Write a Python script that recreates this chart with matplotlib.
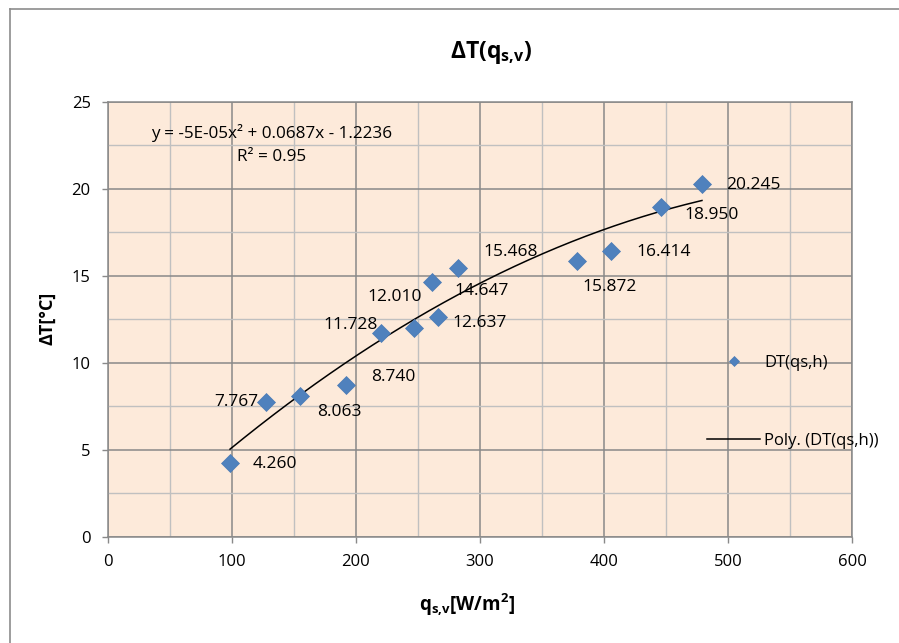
import numpy as np
import matplotlib
matplotlib.use("Agg")
import matplotlib.pyplot as plt
from matplotlib.ticker import MultipleLocator
from matplotlib.lines import Line2D

plt.rcParams['font.family'] = ['Open Sans', 'DejaVu Sans']
plt.rcParams['mathtext.fontset'] = 'custom'
plt.rcParams['mathtext.rm'] = 'Open Sans'
plt.rcParams['mathtext.bf'] = 'Open Sans:bold'

# data
q = [98.4, 127.4, 154.8, 192.0, 220.0, 246.8, 265.9, 261.0, 282.5, 378.0, 406.0, 446.0, 479.0]
dT = [4.260, 7.767, 8.063, 8.740, 11.728, 12.010, 12.637, 14.647, 15.468, 15.872, 16.414, 18.950, 20.245]
labels = ["4.260", "7.767", "8.063", "8.740", "11.728", "12.010", "12.637",
          "14.647", "15.468", "15.872", "16.414", "18.950", "20.245"]
equation = "y = -5E-05x² + 0.0687x - 1.2236"
r_squared = "R² = 0.95"

# label placement (pixel offsets from the point, alignment)
label_pos = [(23, -1, 'left'), (-8, 0, 'right'), (17, -16, 'left'), (25, 8, 'left'),
             (-3, 8, 'right'), (8, 31, 'right'), (15, -6, 'left'), (23, -9, 'left'),
             (25, 16, 'left'), (6, -26, 'left'), (25, -1, 'left'), (23, -8, 'left'),
             (24, -1, 'left')]

blue = '#4F81BD'
major_grey = '#898989'
minor_grey = '#C0C0C0'

fig = plt.figure(figsize=(8.99, 6.43), dpi=100)
W, H = 899, 643
ax = fig.add_axes([108 / W, 1 - 536.7 / H, (852 - 108) / W, (536.7 - 101.7) / H])
ax.set_facecolor('#FDEADA')

# chart border (only left/top visible)
fig.add_artist(Line2D([10 / W, 10 / W], [0, 1 - 9 / H], color='#8C8C8C', lw=1.2))
fig.add_artist(Line2D([10 / W, 1], [1 - 9 / H, 1 - 9 / H], color='#8C8C8C', lw=1.2))

ax.plot(q, dT, 'D', color=blue, markersize=9, markeredgewidth=0.5,
        markeredgecolor='#4A7AB5', zorder=4, label='DT(qs,h)')

# polynomial trendline (order 2)
coef = np.polyfit(q, dT, 2)
xs = np.linspace(min(q), max(q), 200)
ax.plot(xs, np.polyval(coef, xs), color='black', lw=1.1, zorder=3,
        label='Poly. (DT(qs,h))')

for xi, yi, lab, (dx, dy, ha) in zip(q, dT, labels, label_pos):
    ax.annotate(lab, (xi, yi), xytext=(dx, dy), textcoords='offset pixels',
                ha=ha, va='center', fontsize=12.5, zorder=5)

ax.text(132, 23.2, equation, fontsize=12.3, va='center', ha='center')
ax.text(132, 21.84, r_squared, fontsize=12.3, va='center', ha='center')

ax.set_xlim(0, 600)
ax.set_ylim(0, 25)
ax.xaxis.set_major_locator(MultipleLocator(100))
ax.xaxis.set_minor_locator(MultipleLocator(50))
ax.yaxis.set_major_locator(MultipleLocator(5))
ax.yaxis.set_minor_locator(MultipleLocator(2.5))
ax.grid(True, which='major', color=major_grey, lw=1.1, zorder=0)
ax.grid(True, which='minor', color=minor_grey, lw=1.0, zorder=0)
ax.set_axisbelow(True)
for s in ax.spines.values():
    s.set_color(major_grey)
    s.set_linewidth(1.1)
ax.tick_params(which='major', length=4.5, width=1.0, color=major_grey,
               labelsize=12, pad=8)
ax.tick_params(which='minor', length=0)

fig.text(491 / W, 1 - 52 / H, r'$\mathbf{\Delta T(q_{s{,}v})}$', fontsize=16.5,
         ha='center', va='center')
fig.text(467 / W, 1 - 605 / H, r'$\mathbf{q_{s{,}v}[W/m^2]}$', fontsize=13.5,
         ha='center', va='center')
fig.text(47 / W, 1 - 318 / H, 'ΔT[°C]', fontsize=13, fontweight='bold',
         rotation=90, ha='center', va='center')

leg = ax.legend(loc='center left', bbox_to_anchor=(707 / W, 1 - 402 / H),
                bbox_transform=fig.transFigure, frameon=False, fontsize=12,
                handlelength=3.2, handletextpad=0.25, labelspacing=3.75,
                borderpad=0, borderaxespad=0, markerscale=0.6)

fig.savefig('out.png', dpi=100)
